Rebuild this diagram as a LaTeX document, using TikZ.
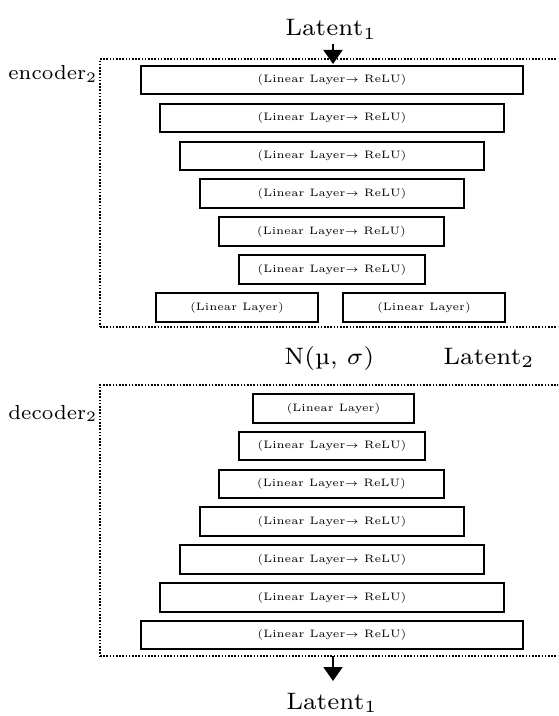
\documentclass[tikz,border=0pt]{standalone}
\usetikzlibrary{arrows.meta}
% labels are set in the 7pt design size and enlarged
\newcommand{\lbltext}[2]{\scalebox{#1}{\scriptsize #2}}
\begin{document}
\begin{tikzpicture}[x=0.5pt,y=-0.5pt,
  layer/.style={draw, line width=0.9pt, inner sep=0pt, minimum height=14.25pt,
                font=\fontsize{5.4}{6}\selectfont},
  frame/.style={draw, line width=0.8pt, dash pattern=on 0.8pt off 0.8pt, inner sep=0pt},
  lbl/.style={inner sep=0pt, anchor=base west},
  flow/.style={-{Triangle[length=7pt,width=9.5pt]}, line width=0.9pt}]
\clip (0,0) rectangle (558,716);

% dotted frames around the two stacks (the right side runs off the page)
\node[frame, minimum width=235pt, minimum height=134pt] (enc) at (335,193) {};
\node[frame, minimum width=235pt, minimum height=135.5pt] (dec) at (335,520.5) {};

% encoder stack
\node[layer, minimum width=191pt] (e1) at (332,80)    {(Linear Layer$\rightarrow$ ReLU)};
\node[layer, minimum width=172pt] (e2) at (332,118)   {(Linear Layer$\rightarrow$ ReLU)};
\node[layer, minimum width=152pt] (e3) at (332,156)   {(Linear Layer$\rightarrow$ ReLU)};
\node[layer, minimum width=132pt] (e4) at (332,193.5) {(Linear Layer$\rightarrow$ ReLU)};
\node[layer, minimum width=112.5pt] (e5) at (331.5,231.5) {(Linear Layer$\rightarrow$ ReLU)};
\node[layer, minimum width=93pt] (e6) at (332,269.5) {(Linear Layer$\rightarrow$ ReLU)};
\node[layer, minimum width=81pt] (e7a) at (237,307.5) {(Linear Layer)};
\node[layer, minimum width=81pt] (e7b) at (424,307.5) {(Linear Layer)};

% decoder stack
\node[layer, minimum width=80.5pt] (d1) at (333.5,408.5) {(Linear Layer)};
\node[layer, minimum width=93pt] (d2) at (332,446)   {(Linear Layer$\rightarrow$ ReLU)};
\node[layer, minimum width=112.5pt] (d3) at (331.5,484) {(Linear Layer$\rightarrow$ ReLU)};
\node[layer, minimum width=132pt] (d4) at (332,521.5) {(Linear Layer$\rightarrow$ ReLU)};
\node[layer, minimum width=152pt] (d5) at (332,559.5) {(Linear Layer$\rightarrow$ ReLU)};
\node[layer, minimum width=172pt] (d6) at (332,597.5) {(Linear Layer$\rightarrow$ ReLU)};
\node[layer, minimum width=191pt] (d7) at (332,635)   {(Linear Layer$\rightarrow$ ReLU)};

% labels
\node[lbl, anchor=base] (lin)  at (331,36)  {\lbltext{1.7}{Latent$_1$}};
\node[lbl] (encl) at (8,80)    {\lbltext{1.45}{encoder$_2$}};
\node[lbl] (decl) at (8,419)   {\lbltext{1.45}{decoder$_2$}};
\node[lbl] (dist) at (284,364) {\lbltext{1.7}{N(µ, $\sigma$)}};
\node[lbl] (lat2) at (443,364) {\lbltext{1.7}{Latent$_2$}};
\node[lbl, anchor=base] (lout) at (332,709) {\lbltext{1.7}{Latent$_1$}};

% input and output arrows
\coordinate (inA) at (333,44);
\coordinate (inB) at (333,64);
\coordinate (outA) at (333,656);
\coordinate (outB) at (333,681);
\draw[flow] (inA) -- (inB);
\draw[flow] (outA) -- (outB);
\end{tikzpicture}
\end{document}
